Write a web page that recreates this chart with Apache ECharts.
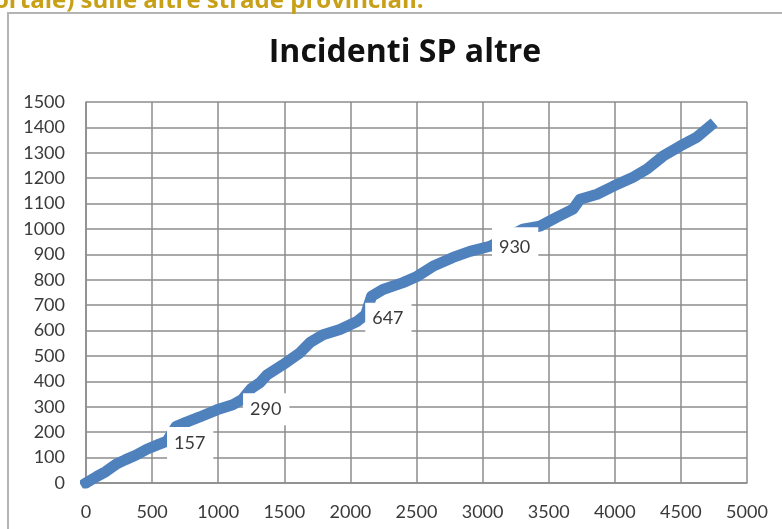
<!DOCTYPE html>
<html>
<head>
<meta charset="utf-8">
<script src="https://cdn.jsdelivr.net/npm/echarts@6/dist/echarts.min.js"></script>
<style>
  html, body { margin: 0; padding: 0; background: #fff; }
  #chart { width: 782px; height: 529px; }
</style>
</head>
<body>
<div id="chart"></div>
<script>
// line (x, cumulative incidents)
const lineX = [0, 80, 150, 230, 300, 380, 460, 540, 613,
    680, 760, 860, 990, 1110, 1180,
    1250, 1316, 1369, 1490, 1619, 1694, 1793, 1921, 2050, 2115,
    2160, 2246, 2398, 2503, 2624, 2776, 2904, 3055,
    3305, 3434, 3563, 3684, 3737, 3790, 3866, 3987, 4138, 4244, 4365, 4493, 4622, 4720];
const lineY = [0, 25, 45, 75, 92, 110, 133, 150, 165,
    222, 240, 260, 288, 308, 328,
    372, 395, 426, 466, 513, 553, 584, 604, 636, 663,
    735, 762, 789, 813, 853, 888, 912, 932,
    999, 1011, 1047, 1078, 1117, 1125, 1137, 1168, 1204, 1236, 1287, 1326, 1362, 1405];

// labelled points
const labelX = [613, 1188, 2112, 3071];
const labelValues = [157, 290, 647, 930];

const titleText = 'Incidenti SP altre';
const headerText = 'ortale) sulle altre strade provinciali.';

function main() {
    const chart = echarts.init(document.getElementById('chart'));

    const lineData = lineX.map((x, i) => [x, lineY[i]]);
    const labelData = labelX.map((x, i) => {
        const item = {value: [x, labelValues[i]]};
        if (labelValues[i] === 930) {
            item.label = {padding: [14, 8, 7, 7]};
        }
        return item;
    });

    const tickLabel = {
        color: '#3a3a3a',
        fontFamily: 'Lato',
        fontSize: 18,
        formatter: (v) => String(v),
    };

    const option = {
        backgroundColor: '#fff',
        animation: false,
        title: {
            text: titleText,
            left: 400,
            top: 32,
            textAlign: 'center',
            textStyle: {
                fontFamily: 'Open Sans',
                fontWeight: 'bold',
                fontSize: 32,
                color: '#111',
            },
        },
        graphic: [
            {
                type: 'rect',
                shape: {x: 8, y: 13, width: 800, height: 600},
                style: {fill: 'none', stroke: '#b4b4b4', lineWidth: 2},
                silent: true,
            },
            {
                type: 'text',
                x: -6,
                y: 13,
                style: {
                    text: headerText,
                    fill: '#c8a018',
                    font: 'bold 24px "Open Sans"',
                    textVerticalAlign: 'bottom',
                },
                silent: true,
            },
        ],
        grid: {
            left: 86,
            right: 35,
            top: 102,
            bottom: 46,
        },
        xAxis: {
            type: 'value',
            min: 0,
            max: 5000,
            interval: 500,
            axisLine: {show: true, lineStyle: {color: '#8c8c8c', width: 1.5}},
            axisTick: {show: false},
            axisLabel: {...tickLabel, margin: 20},
            splitLine: {show: true, lineStyle: {color: '#8c8c8c', width: 1.5}},
        },
        yAxis: {
            type: 'value',
            min: 0,
            max: 1500,
            interval: 100,
            axisLine: {show: true, lineStyle: {color: '#8c8c8c', width: 1.5}},
            axisTick: {show: false},
            axisLabel: {...tickLabel, margin: 21},
            splitLine: {show: true, lineStyle: {color: '#8c8c8c', width: 1.5}},
        },
        series: [
            {
                type: 'line',
                data: lineData,
                showSymbol: false,
                z: 2,
                lineStyle: {
                    color: '#4f81bd',
                    width: 11,
                    cap: 'square',
                    join: 'round',
                },
            },
            {
                type: 'scatter',
                data: labelData,
                symbolSize: 0,
                z: 5,
                itemStyle: {opacity: 1},
                label: {
                    show: true,
                    position: 'right',
                    distance: 0,
                    formatter: (p) => String(p.value[1]),
                    backgroundColor: '#fff',
                    padding: [7, 8, 7, 7],
                    color: '#3a3a3a',
                    fontFamily: 'Lato',
                    fontSize: 18,
                },
            },
        ],
    };

    chart.setOption(option);
}

main();
</script>
</body>
</html>
